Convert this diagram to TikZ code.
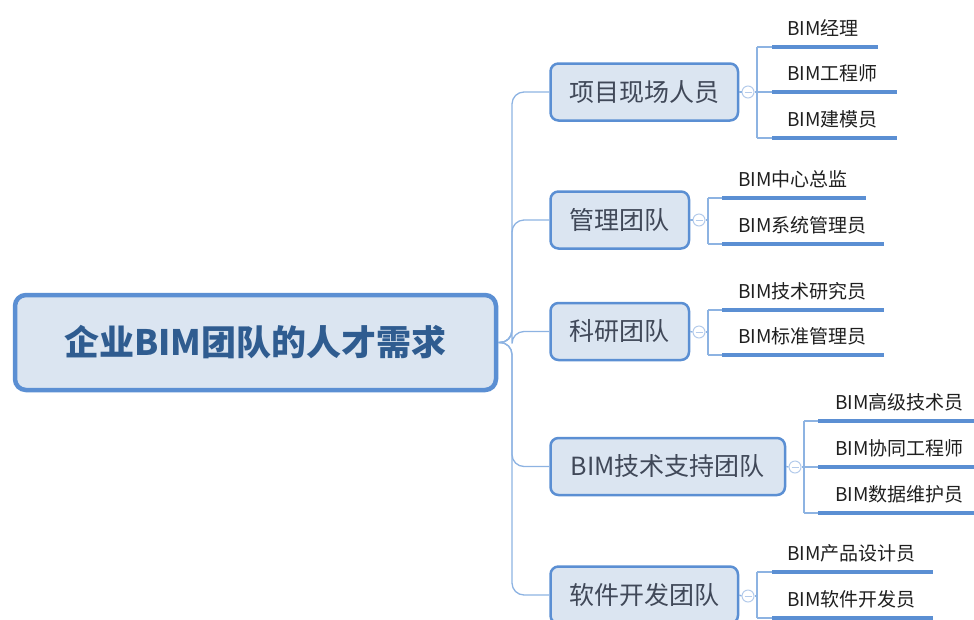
\documentclass[tikz,border=0pt]{standalone}
\usepackage{fontspec}
\setmainfont{Noto Sans CJK SC}
\definecolor{boxfill}{HTML}{DBE5F1}
\definecolor{bord}{HTML}{5B8FD3}
\definecolor{roottext}{HTML}{2F5C90}
\definecolor{cattext}{HTML}{404858}
\definecolor{leaftext}{HTML}{1F1F1F}
\definecolor{linkc}{HTML}{8DB3E2}
\definecolor{foldc}{HTML}{B4CBEB}
\begin{document}
\begin{tikzpicture}[x=1pt,y=-1pt,
 rootbox/.style={draw=bord, line width=4.5pt, fill=boxfill, rounded corners=11pt, minimum width=481pt, minimum height=95pt, font=\fontsize{35}{40}\selectfont\bfseries, text=roottext},
 catbox/.style={draw=bord, line width=2.5pt, fill=boxfill, rounded corners=8pt, minimum height=57pt, font=\fontsize{25}{28}\selectfont, text=cattext, anchor=west},
 leaf/.style={font=\fontsize{19}{22}\selectfont, text=leaftext, anchor=base west, inner sep=0pt},
 link/.style={draw=linkc, line width=1.3pt},
 uline/.style={draw=bord, line width=3.2pt},
 fold/.style={circle, draw=foldc, line width=1pt, fill=white, minimum size=12pt, inner sep=0pt,
   path picture={\draw[foldc,line width=0.9pt] ([xshift=-3.5pt]path picture bounding box.center) -- ([xshift=3.5pt]path picture bounding box.center);}}
]
\useasboundingbox (0,0) rectangle (974,619);

% root
\node[rootbox] (root) at (255.5,342.5) {企业BIM团队的人才需求};
\coordinate (trunk) at (512,342.5);

% categories
\node[catbox, minimum width=187.5pt] (c1) at (549.25,92) {项目现场人员};
\node[catbox, minimum width=138.5pt] (c2) at (549.25,220) {管理团队};
\node[catbox, minimum width=138.5pt] (c3) at (549.25,331.5) {科研团队};
\node[catbox, minimum width=234.5pt] (c4) at (549.25,466.5) {BIM技术支持团队};
\node[catbox, minimum width=187.5pt] (c5) at (549.25,595) {软件开发团队};

\foreach \c in {c1,c2,c3,c4,c5}{
  \draw[link, rounded corners=12pt] (root.east) -- (trunk) |- (\c.west);
}

% fold circles and brackets
\node[fold] (f1) at (748,92) {};
\node[fold] (f2) at (699,220) {};
\node[fold] (f3) at (699,332) {};
\node[fold] (f4) at (795,467) {};
\node[fold] (f5) at (748,596) {};

\coordinate (b1) at (757,92);
\coordinate (b2) at (708,220);
\coordinate (b3) at (708,332);
\coordinate (b4) at (804,467);
\coordinate (b5) at (757,596);

\draw[link] (c1.east) -- (f1.west); \draw[link] (f1.east) -- (b1);
\draw[link] (c2.east) -- (f2.west); \draw[link] (f2.east) -- (b2);
\draw[link] (c3.east) -- (f3.west); \draw[link] (f3.east) -- (b3);
\draw[link] (c4.east) -- (f4.west); \draw[link] (f4.east) -- (b4);
\draw[link] (c5.east) -- (f5.west); \draw[link] (f5.east) -- (b5);

% group 1
\coordinate (t11) at (757,47); \coordinate (t13) at (757,138);
\draw[link] (t11) -- (t13);
\coordinate (u11) at (772,47);  \coordinate (e11) at (878,47);
\coordinate (u12) at (772,92);  \coordinate (e12) at (897,92);
\coordinate (u13) at (772,138); \coordinate (e13) at (897,138);
\draw[link] (t11) -- (u11); \draw[uline] (u11) -- (e11);
\draw[link] (b1) -- (u12); \draw[uline] (u12) -- (e12);
\draw[link] (t13) -- (u13); \draw[uline] (u13) -- (e13);
\node[leaf] (l11) at (787,35) {BIM经理};
\node[leaf] (l12) at (787,80) {BIM工程师};
\node[leaf] (l13) at (787,126) {BIM建模员};

% group 2
\coordinate (t21) at (708,198); \coordinate (t22) at (708,244);
\draw[link] (t21) -- (t22);
\coordinate (u21) at (722,198); \coordinate (e21) at (866,198);
\coordinate (u22) at (722,244); \coordinate (e22) at (884,244);
\draw[link] (t21) -- (u21); \draw[uline] (u21) -- (e21);
\draw[link] (t22) -- (u22); \draw[uline] (u22) -- (e22);
\node[leaf] (l21) at (738,186) {BIM中心总监};
\node[leaf] (l22) at (738,232) {BIM系统管理员};

% group 3
\coordinate (t31) at (708,310); \coordinate (t32) at (708,355);
\draw[link] (t31) -- (t32);
\coordinate (u31) at (722,310); \coordinate (e31) at (884,310);
\coordinate (u32) at (722,355); \coordinate (e32) at (884,355);
\draw[link] (t31) -- (u31); \draw[uline] (u31) -- (e31);
\draw[link] (t32) -- (u32); \draw[uline] (u32) -- (e32);
\node[leaf] (l31) at (738,298) {BIM技术研究员};
\node[leaf] (l32) at (738,343) {BIM标准管理员};

% group 4
\coordinate (t41) at (804,421); \coordinate (t43) at (804,513);
\draw[link] (t41) -- (t43);
\coordinate (u41) at (818,421); \coordinate (e41) at (980,421);
\coordinate (u42) at (818,467); \coordinate (e42) at (980,467);
\coordinate (u43) at (818,513); \coordinate (e43) at (980,513);
\draw[link] (t41) -- (u41); \draw[uline] (u41) -- (e41);
\draw[link] (b4) -- (u42); \draw[uline] (u42) -- (e42);
\draw[link] (t43) -- (u43); \draw[uline] (u43) -- (e43);
\node[leaf] (l41) at (835,409) {BIM高级技术员};
\node[leaf] (l42) at (835,455) {BIM协同工程师};
\node[leaf] (l43) at (835,501) {BIM数据维护员};

% group 5
\coordinate (t51) at (757,572); \coordinate (t52) at (757,618);
\draw[link] (t51) -- (t52);
\coordinate (u51) at (772,572); \coordinate (e51) at (933,572);
\coordinate (u52) at (772,618); \coordinate (e52) at (933,618);
\draw[link] (t51) -- (u51); \draw[uline] (u51) -- (e51);
\draw[link] (t52) -- (u52); \draw[uline] (u52) -- (e52);
\node[leaf] (l51) at (787,560) {BIM产品设计员};
\node[leaf] (l52) at (787,606) {BIM软件开发员};
\end{tikzpicture}
\end{document}
